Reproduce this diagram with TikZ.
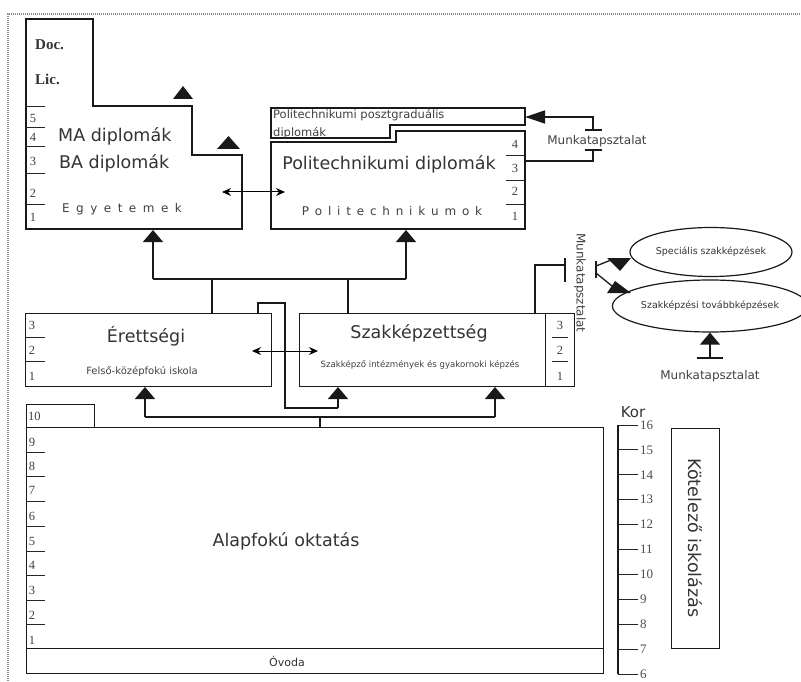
\documentclass[tikz,border=0pt]{standalone}
\usepackage{fontspec}
\setmainfont{DejaVu Sans}
\newfontfamily\serifnum{Liberation Serif}
\usetikzlibrary{arrows.meta,shapes.geometric}
\newcommand\lspA{\kern6.5pt}
\newcommand\lspB{\kern5.8pt}
\tikzset{
 ln/.style={line width=1.3pt, draw=black!90},
 box/.style={draw=black!90, line width=1.3pt, inner sep=0pt, anchor=north west},
 thinln/.style={line width=0.9pt, draw=black!85},
 num/.style={font=\serifnum\fontsize{12.5}{12.5}\selectfont, text=black!75, inner sep=0pt},
 kornum/.style={font=\serifnum\fontsize{13}{13}\selectfont, text=black!70, inner sep=0pt, anchor=west},
 big/.style={font=\fontsize{17.5}{20}\selectfont, text=black!80, inner sep=0pt},
 mid/.style={font=\fontsize{12}{14}\selectfont, text=black!75, inner sep=0pt},
 spaced/.style={font=\fontsize{12}{14}\selectfont, text=black!75, inner sep=0pt},
 upar/.style={ln, -{Triangle[width=20pt,length=12pt]}},
 dbl/.style={line width=1pt, {Stealth[length=9pt,width=8pt]}-{Stealth[length=9pt,width=8pt]}},
 ell/.style={draw=black!90, ellipse, line width=1.2pt, inner sep=0pt, font=\fontsize{9.5}{10}\selectfont, text=black!80},
 docf/.style={font=\serifnum\bfseries\fontsize{15}{15}\selectfont, text=black!80, anchor=west, inner sep=0pt},
}
\begin{document}
\begin{tikzpicture}[x=1pt,y=-1pt]
\useasboundingbox (0,0) rectangle (801,682);
% frame
\draw[black!45, line width=2pt, dash pattern=on 1pt off 1pt] (8,683) -- (8,14) -- (801,14);

% ---------- Egyetemek ----------
\draw[ln] (26,19) -- (93,19) -- (93,106) -- (192,106) -- (192,155) -- (242,155) -- (242,229) -- (26,229) -- cycle;
\foreach \y in {106,127,146,173,204} \draw[thinln] (26,\y) -- (45,\y);
\foreach \n/\y in {5/118,4/137,3/161,2/193,1/217} \node[num] at (33,\y) {\n};
\node[docf] (doc) at (35,45) {Doc.};
\node[docf] (lic) at (35,79) {Lic.};
\fill[black!90] (173,99) -- (193,99) -- (183,86) -- cycle;
\fill[black!90] (217,149) -- (240,149) -- (228.5,136) -- cycle;
\node[big, anchor=west] (ma) at (58,136) {MA diplomák};
\node[big, anchor=west] (ba) at (59,163) {BA diplomák};
\node[spaced] (egy) at (122,209) {E\lspA g\lspA y\lspA e\lspA t\lspA e\lspA m\lspA e\lspA k};
\coordinate (egyR) at (222,192);
\coordinate (egyB) at (153,230);

% ---------- Politechnikum ----------
\draw[ln] (271,108) -- (525,108) -- (525,125) -- (390,125) -- (390,138) -- (271,138) -- cycle;
\draw[ln] (271,142) -- (396,142) -- (396,131) -- (525,131) -- (525,229) -- (271,229) -- cycle;
\node[font=\fontsize{11.5}{13}\selectfont, text=black!75, anchor=base west, inner sep=0pt] (pg1) at (273,119) {Politechnikumi posztgraduális};
\node[font=\fontsize{11.5}{13}\selectfont, text=black!75, anchor=base west, inner sep=0pt] (pg2) at (273,137) {diplomák};
\foreach \y in {155,180,204} \draw[thinln] (506,\y) -- (525,\y);
\foreach \n/\y in {4/144,3/168,2/191,1/216} \node[num] at (515,\y) {\n};
\node[big] (pd) at (389,164) {Politechnikumi diplomák};
\node[spaced] (pk) at (392,211) {P\lspB o\lspB l\lspB i\lspB t\lspB e\lspB c\lspB h\lspB n\lspB i\lspB k\lspB u\lspB m\lspB o\lspB k};
\coordinate (polL) at (285,192);
\coordinate (polB) at (406,230);
\coordinate (polR) at (525,161);
\coordinate (pgR) at (525,117);

\draw[dbl] (egyR) -- (polL);

% ---------- middle row ----------
\node[box, minimum width=246pt, minimum height=73pt] (er) at (25,313) {};
\node[box, minimum width=246pt, minimum height=73pt] (sz) at (299,313) {};
\node[box, minimum width=29pt, minimum height=73pt] (szn) at (545,313) {};
\foreach \y in {337,361} \draw[thinln] (25,\y) -- (45,\y);
\foreach \n/\y in {3/325,2/350,1/376} \node[num] at (32,\y) {\n};
\foreach \y in {337,361} \draw[thinln] (552,\y) -- (568,\y);
\foreach \n/\y in {3/325,2/350,1/376} \node[num] at (560,\y) {\n};
\node[big] (ert) at (146,336) {Érettségi};
\node[font=\fontsize{10}{12}\selectfont, text=black!75, inner sep=0pt] (fk) at (142,372) {Felső-középfokú iskola};
\node[big] (szk) at (419,333) {Szakképzettség};
\node[font=\fontsize{8.6}{10}\selectfont, text=black!75, inner sep=0pt] (szi) at (420,365) {Szakképző intézmények és gyakornoki képzés};

% connectors middle -> top
\draw[ln] (153,279) -- (406,279);
\draw[upar] (153,279) -- (egyB);
\draw[upar] (406,279) -- (polB);
\draw[ln] (212,279) -- (212,313);
\draw[ln] (348,279) -- (348,313);

\draw[dbl] (252,351) -- (318,351);

% loop from Erettsegi to Szakkepzettseg
\draw[ln] (258,313) -- (258,303) -- (285,303) -- (285,408) -- (338,408);
\draw[upar] (338,408) -- (338,387);

% ---------- bottom ----------
\node[box, minimum width=68pt, minimum height=23pt] (ten) at (26,404) {};
\node[box, minimum width=577pt, minimum height=221pt] (alap) at (26,427) {};
\node[box, minimum width=577pt, minimum height=25pt] (ovoda) at (26,648) {};
\node[num, anchor=west] at (28,416) {10};
\foreach \y in {452,476,501,526,551,575,600,624} \draw[thinln] (26,\y) -- (45,\y);
\foreach \n/\y in {9/442,8/466,7/490,6/516,5/541,4/565,3/590,2/615,1/640} \node[num] at (32,\y) {\n};
\node[big] (alt) at (286,541) {Alapfokú oktatás};
\node[font=\fontsize{11}{12}\selectfont, text=black!80, inner sep=0pt] (ovt) at (287,661) {Óvoda};

% connectors bottom -> middle
\draw[ln] (145,417) -- (495,417);
\draw[upar] (145,417) -- (145,387);
\draw[upar] (495,417) -- (495,387);
\draw[ln] (320,417) -- (alap.north -| 320,0);

% ---------- Kor scale ----------
\node[font=\fontsize{15}{16}\selectfont, text=black!80, inner sep=0pt] (kor) at (633,412) {Kor};
\draw[ln] (618,425) -- (618,674);
\foreach \i in {0,...,10} {
  \pgfmathsetmacro\yy{425+\i*24.9}
  \pgfmathtruncatemacro\lab{16-\i}
  \draw[thinln] (618,\yy) -- (638,\yy);
  \node[kornum] at (640,\yy) {\lab};
}
\node[box, minimum width=48pt, minimum height=220pt] (kot) at (671,428) {};
\node[big, rotate=-90] (kott) at (695,538) {Kötelező iskolázás};

% ---------- Munkatapasztalat (top) ----------
\draw[ln] (polR) -- (593,161) -- (593,150);
\draw[ln] (585,150) -- (602,150);
\draw[ln] (585,130) -- (602,130);
\draw[ln, -{Triangle[width=13pt,length=20pt]}] (593,130) -- (593,117) -- (pgR);
\node[mid] (mt1) at (597,141) {Munkatapsztalat};

% ---------- Munkatapasztalat (middle) ----------
\draw[ln] (535,313) -- (535,265) -- (565,265);
\draw[ln] (565,258) -- (565,282);
\node[mid, rotate=-90] (mt2) at (580,283) {Munkatapsztalat};
\draw[ln] (596,261) -- (596,278);
\draw[ln] (596,266) -- (611,260);
\draw[ln] (596,273) -- (612,286);
\fill[black!90] (607,258) -- (631,258) -- (620,271) -- cycle;
\fill[black!90] (615,281) -- (607,293) -- (631,293) -- cycle;

\node[ell, minimum width=162pt, minimum height=49pt] (spec) at (711,252) {Speciális szakképzések};
\node[ell, minimum width=160pt, minimum height=52pt] (tovabb) at (710,306) {Szakképzési továbbképzések};

% ---------- Munkatapasztalat (bottom) ----------
\draw[ln] (697,358) -- (723,358);
\draw[upar] (710,358) -- (tovabb.south);
\node[mid] (mt3) at (710,376) {Munkatapsztalat};
\end{tikzpicture}
\end{document}
